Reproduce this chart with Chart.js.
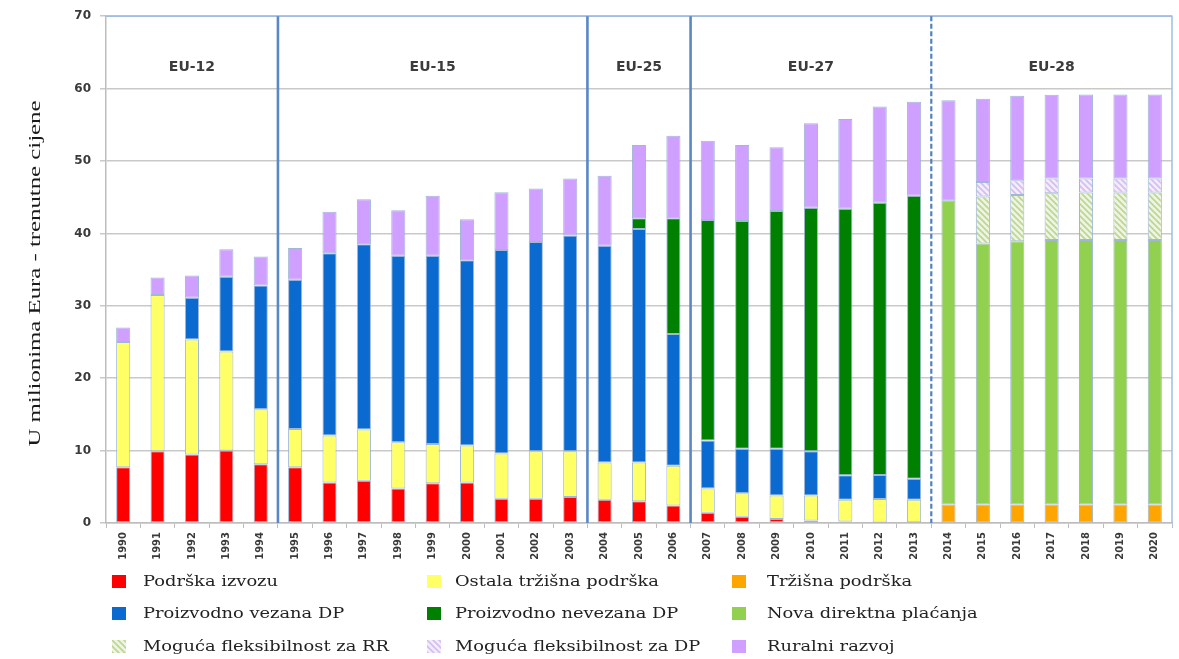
<!DOCTYPE html>
<html><head><meta charset="utf-8">
<script src="https://cdn.jsdelivr.net/npm/chart.js@4/dist/chart.umd.min.js"></script>
<style>
html,body{margin:0;padding:0;background:#fff;}
#wrap{position:relative;width:1179px;height:659px;overflow:hidden;background:#fff;}
#c{position:absolute;left:0;top:0;}
.lg{position:absolute;font-family:"DejaVu Serif",serif;font-size:15px;color:#222;white-space:nowrap;line-height:16px;transform-origin:0 50%;}
.sw{position:absolute;width:14px;height:13px;}
</style></head><body>
<div id="wrap"><canvas id="c" width="1179" height="659"></canvas><div id="legend"></div></div>
<script>
// ---------- DATA ----------
const years = ['1990','1991','1992','1993','1994','1995','1996','1997','1998','1999','2000','2001','2002','2003','2004','2005','2006','2007','2008','2009','2010','2011','2012','2013','2014','2015','2016','2017','2018','2019','2020'];
const podrskaIzvozu = [7.7,9.9,9.45,10.0,8.1,7.7,5.6,5.85,4.75,5.5,5.6,3.35,3.35,3.6,3.2,3.0,2.4,1.4,0.87,0.55,0.36,0.2,0.08,null,null,null,null,null,null,null,null];
const ostalaTrzisna = [17.3,21.6,15.9,13.7,7.6,5.3,6.5,7.05,6.4,5.4,5.1,6.25,6.55,6.3,5.15,5.35,5.5,3.35,3.23,3.25,3.44,3.0,3.25,3.2,null,null,null,null,null,null,null];
const trzisnaPodrska = [null,null,null,null,null,null,null,null,null,null,null,null,null,null,null,null,null,null,null,null,null,null,null,null,2.55,2.55,2.55,2.55,2.55,2.55,2.55];
const vezanaDP = [null,null,5.75,10.3,17.1,20.6,25.15,25.6,25.75,26.0,25.6,28.1,28.9,29.8,29.95,32.25,18.2,6.65,6.15,6.45,6.1,3.4,3.3,2.9,null,null,null,null,null,null,null];
const nevezanaDP = [null,null,null,null,null,null,null,null,null,null,null,null,null,null,null,1.5,16.0,30.45,31.45,32.85,33.65,36.8,37.6,39.1,null,null,null,null,null,null,null];
const novaDirektna = [null,null,null,null,null,null,null,null,null,null,null,null,null,null,null,null,null,null,null,null,null,null,null,null,41.95,36.05,36.35,36.55,36.55,36.55,36.55];
const fleksRR = [null,null,null,null,null,null,null,null,null,null,null,null,null,null,null,null,null,null,null,null,null,null,null,null,null,6.5,6.4,6.45,6.55,6.55,6.55];
const fleksDP = [null,null,null,null,null,null,null,null,null,null,null,null,null,null,null,null,null,null,null,null,null,null,null,null,null,2.0,2.05,2.05,1.95,1.95,1.95];
const ruralniRazvoj = [2.0,2.4,3.1,3.8,4.0,4.4,5.75,6.2,6.3,8.3,5.65,8.0,7.4,7.9,9.65,10.1,11.4,10.95,10.5,8.8,11.65,12.4,13.3,13.0,13.9,11.5,11.65,11.55,11.6,11.6,11.6];
const yTicks = [0,10,20,30,40,50,60,70];
const eraLabels = ['EU-12','EU-15','EU-25','EU-27','EU-28'];
const eraStart = ['1990','1995','2004','2007','2014'];
const eraEnd = ['1994','2003','2006','2013','2020'];
const eraDividerDashed = [false,false,false,true];
const eraLabelValue = 63;
const yTitle = 'U milionima Eura - trenutne cijene';

// ---------- PATTERNS ----------
function makePattern(bg, fg){
  const c=document.createElement('canvas'); c.width=6; c.height=6;
  const x=c.getContext('2d');
  x.fillStyle=bg; x.fillRect(0,0,6,6);
  x.strokeStyle=fg; x.lineWidth=1.6;
  x.beginPath();
  x.moveTo(-1,-1); x.lineTo(7,7);
  x.moveTo(-1,5); x.lineTo(1,7);
  x.moveTo(5,-1); x.lineTo(7,1);
  x.stroke();
  return x.createPattern(c,'repeat');
}
const patRR = makePattern('#eef4e2','#bcd68f');
const patDP = makePattern('#f3ecfb','#d3bdf0');

const series = [
  {label:'Podrška izvozu', data:podrskaIzvozu, color:'#ff0000'},
  {label:'Ostala tržišna podrška', data:ostalaTrzisna, color:'#ffff66'},
  {label:'Tržišna podrška', data:trzisnaPodrska, color:'#ffa500'},
  {label:'Proizvodno vezana DP', data:vezanaDP, color:'#0a6ad0'},
  {label:'Proizvodno nevezana DP', data:nevezanaDP, color:'#008000'},
  {label:'Nova direktna plaćanja', data:novaDirektna, color:'#92d050'},
  {label:'Moguća fleksibilnost za RR', data:fleksRR, color:patRR},
  {label:'Moguća fleksibilnost za DP', data:fleksDP, color:patDP},
  {label:'Ruralni razvoj', data:ruralniRazvoj, color:'#cfa0ff'}
];

let yAxisW = 106, xAxisH = 136;
const target = {left:106, top:16, right:1172, bottom:523};

const overlay = {
  id:'overlay',
  afterDatasetsDraw(chart){
    const x=chart.scales.x, y=chart.scales.y, ctx=chart.ctx, a=chart.chartArea;
    ctx.save();
    // plot border top/right
    ctx.strokeStyle='#a3bde0'; ctx.lineWidth=1.5; ctx.setLineDash([]);
    ctx.beginPath(); ctx.moveTo(a.left,a.top); ctx.lineTo(a.right,a.top); ctx.lineTo(a.right,a.bottom); ctx.stroke();
    // era dividers
    for(let i=0;i<eraEnd.length-1;i++){
      const i1=years.indexOf(eraEnd[i]);
      const px=(x.getPixelForValue(i1)+x.getPixelForValue(i1+1))/2;
      ctx.strokeStyle=eraDividerDashed[i]?'#4f82c0':'#5a88c6';
      ctx.lineWidth=eraDividerDashed[i]?2.2:2.6;
      ctx.setLineDash(eraDividerDashed[i]?[5,2.5]:[]);
      ctx.beginPath(); ctx.moveTo(px,a.top); ctx.lineTo(px,a.bottom); ctx.stroke();
    }
    ctx.setLineDash([]);
    // era labels
    ctx.font='bold 14px "DejaVu Sans"'; ctx.fillStyle='#3c3c3c';
    ctx.textAlign='center'; ctx.textBaseline='middle';
    const py=y.getPixelForValue(eraLabelValue);
    for(let i=0;i<eraLabels.length;i++){
      const px=(x.getPixelForValue(years.indexOf(eraStart[i]))+x.getPixelForValue(years.indexOf(eraEnd[i])))/2;
      ctx.fillText(eraLabels[i],px,py);
    }
    ctx.restore();
  },
  afterDraw(chart){
    const ctx=chart.ctx, a=chart.chartArea;
    ctx.save();
    ctx.font='16px "Liberation Serif"'; ctx.fillStyle='#1a1a1a';
    const w=ctx.measureText(yTitle).width;
    const sx=346/w;
    ctx.translate(36,(a.top+a.bottom)/2+4);
    ctx.rotate(-Math.PI/2);
    ctx.scale(sx,1);
    ctx.textAlign='center'; ctx.textBaseline='middle';
    ctx.fillText(yTitle,0,0);
    ctx.restore();
  }
};

const chart = new Chart(document.getElementById('c'),{
  type:'bar',
  data:{
    labels:years,
    datasets:series.map(s=>({label:s.label,data:s.data,backgroundColor:s.color,borderColor:'rgba(150,175,210,0.9)',borderWidth:1,categoryPercentage:1,barPercentage:0.41,borderSkipped:false}))
  },
  options:{
    responsive:false, animation:false, devicePixelRatio:1,
    layout:{padding:{left:0,top:16,right:7,bottom:0}},
    plugins:{legend:{display:false},tooltip:{enabled:false},title:{display:false}},
    scales:{
      x:{stacked:true, offset:true,
        grid:{display:true,drawOnChartArea:false,drawTicks:true,tickLength:5,offset:true,color:'#bdbdbd'},
        border:{color:'#bdbdbd',width:1.5},
        ticks:{autoSkip:false,minRotation:90,maxRotation:90,padding:4,color:'#3a3a3a',font:{family:'DejaVu Sans',weight:'bold',size:10}},
        afterFit(s){s.height=xAxisH;}
      },
      y:{stacked:true,min:0,max:70,
        afterBuildTicks(s){s.ticks=yTicks.map(v=>({value:v}));},
        grid:{color:'#c9c9c9',lineWidth:1.5,tickLength:6,drawTicks:true},
        border:{color:'#bdbdbd',width:1.5},
        ticks:{padding:9,color:'#3a3a3a',font:{family:'DejaVu Sans',weight:'bold',size:12}},
        afterFit(s){s.width=yAxisW;}
      }
    }
  },
  plugins:[overlay]
});

// align chart area with the reference
(function(){
  const ca=chart.chartArea;
  const p=chart.options.layout.padding;
  yAxisW += target.left-ca.left;
  p.top += target.top-ca.top;
  p.right += ca.right-target.right;
  xAxisH += ca.bottom-target.bottom;
  chart.update('none');
})();

// ---------- LEGEND ----------
const legendCols=[{sw:112,tx:143},{sw:427,tx:455},{sw:732,tx:767}];
const legendRows=[581,613,646];
const lg=document.getElementById('legend');
const items=[];
series.forEach((s,i)=>{
  const col=legendCols[i%3], row=legendRows[Math.floor(i/3)];
  const sw=document.createElement('canvas'); sw.width=14; sw.height=13; sw.className='sw';
  sw.style.left=col.sw+'px'; sw.style.top=(row-6.5)+'px';
  const sx=sw.getContext('2d'); sx.fillStyle=s.color; sx.fillRect(0,0,14,13);
  lg.appendChild(sw);
  const t=document.createElement('div'); t.className='lg'; t.textContent=s.label;
  t.style.left=col.tx+'px'; t.style.top=(row-8)+'px';
  lg.appendChild(t); items.push(t);
});
const ref=items[0].getBoundingClientRect().width;
const f=135/ref;
items.forEach(t=>{t.style.transform='scaleX('+f+')';});
</script>
</body></html>
